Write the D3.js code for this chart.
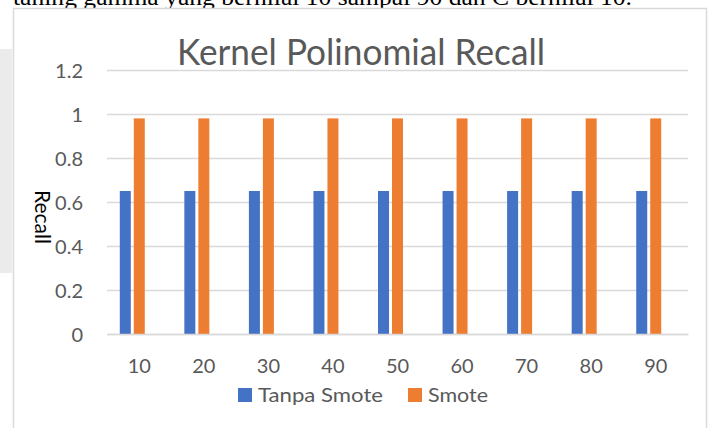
<!DOCTYPE html>
<html>
<head>
<meta charset="utf-8">
<script src="https://cdn.jsdelivr.net/npm/d3@7"></script>
<style>
  html, body { margin: 0; padding: 0; background: #fff; }
  svg { display: block; }
</style>
</head>
<body>
<svg id="chart" width="715" height="428"></svg>
<script>
// ---- data ----
const categories = ["10", "20", "30", "40", "50", "60", "70", "80", "90"];
const seriesNames = ["Tanpa Smote", "Smote"];
const tanpaSmote = [0.65, 0.65, 0.65, 0.65, 0.65, 0.65, 0.65, 0.65, 0.65];
const smote = [0.98, 0.98, 0.98, 0.98, 0.98, 0.98, 0.98, 0.98, 0.98];
const yTicks = [0, 0.2, 0.4, 0.6, 0.8, 1, 1.2];
const titleText = "Kernel Polinomial Recall";
const yAxisTitle = "Recall";
const captionText = "taning gamma yang bernilai 10 sampai 90 dan C bernilai 10.";

const seriesValues = [tanpaSmote, smote];
const colors = ["#4472C4", "#ED7D31"];

const svg = d3.select("#chart");
const sans = "Lato, 'Open Sans', sans-serif";

// page remnants
svg.append("rect").attr("x", 0).attr("y", 49).attr("width", 12).attr("height", 224).attr("fill", "#ebebeb");
svg.append("text")
  .attr("x", 13).attr("y", 5)
  .attr("font-family", "'Liberation Serif', 'Times New Roman', serif")
  .attr("font-size", 24).attr("fill", "#000")
  .attr("textLength", 619).attr("lengthAdjust", "spacingAndGlyphs")
  .text(captionText);

// chart frame
svg.append("rect").attr("x", 13.5).attr("y", 8.5).attr("width", 693).attr("height", 500)
  .attr("fill", "#fff").attr("stroke", "#d9d9d9").attr("stroke-width", 1.5);

const plot = { left: 107, right: 688, top: 70, bottom: 334 };

const x0 = d3.scaleBand().domain(categories).range([plot.left, plot.right]).paddingInner(0).paddingOuter(0);
// three slots per category (Excel cluster with an empty third slot)
const x1 = d3.scaleBand().domain([0, 1, 2]).range([0, x0.bandwidth()]).paddingInner(0.214).paddingOuter(0.914);
const y = d3.scaleLinear().domain([0, 1.2]).range([plot.bottom, plot.top]);

// gridlines
const yAxis = d3.axisLeft(y).tickValues(yTicks)
  .tickSize(-(plot.right - plot.left)).tickPadding(24)
  .tickFormat(d => d3.format("~g")(d));
const gy = svg.append("g").attr("transform", `translate(${plot.left},0)`).call(yAxis);
gy.select(".domain").remove();
gy.selectAll(".tick line").attr("stroke", "#d9d9d9").attr("stroke-width", 1.5);
gy.selectAll(".tick text").attr("font-family", sans).attr("font-size", 20).attr("fill", "#595959")
  .attr("dy", "0.36em");

// bars
const groups = svg.append("g").selectAll("g").data(seriesValues).join("g")
  .attr("fill", (d, i) => colors[i]);
groups.each(function(vals, si) {
  d3.select(this).selectAll("rect").data(vals).join("rect")
    .attr("x", (d, i) => x0(categories[i]) + x1(si))
    .attr("width", x1.bandwidth())
    .attr("y", d => y(d))
    .attr("height", d => y(0) - y(d));
});

// x axis
const xAxis = d3.axisBottom(x0).tickSize(0).tickPadding(25);
const gx = svg.append("g").attr("transform", `translate(0,${plot.bottom})`).call(xAxis);
gx.select(".domain").attr("stroke", "#d9d9d9").attr("stroke-width", 1.5);
gx.selectAll(".tick text").attr("font-family", sans).attr("font-size", 20).attr("fill", "#595959");

// title
svg.append("text").attr("x", 361).attr("y", 65).attr("text-anchor", "middle")
  .attr("font-family", sans).attr("font-size", 36).attr("fill", "#595959")
  .attr("textLength", 368).attr("lengthAdjust", "spacingAndGlyphs")
  .text(titleText);

// y axis title
svg.append("text").attr("transform", "translate(35,217) rotate(90)")
  .attr("text-anchor", "middle")
  .attr("font-family", sans).attr("font-size", 21).attr("font-weight", 400).attr("fill", "#000")
  .text(yAxisTitle);

// legend
const legendItems = [
  { name: seriesNames[0], color: colors[0], sx: 238, tx: 258, w: 125 },
  { name: seriesNames[1], color: colors[1], sx: 408, tx: 428, w: 60 }
];
const lg = svg.append("g").selectAll("g").data(legendItems).join("g");
lg.append("rect").attr("x", d => d.sx).attr("y", 388).attr("width", 14).attr("height", 14).attr("fill", d => d.color);
lg.append("text").attr("x", d => d.tx).attr("y", 402)
  .attr("font-family", sans).attr("font-size", 20).attr("fill", "#595959")
  .attr("textLength", d => d.w).attr("lengthAdjust", "spacingAndGlyphs")
  .text(d => d.name);
</script>
</body>
</html>
